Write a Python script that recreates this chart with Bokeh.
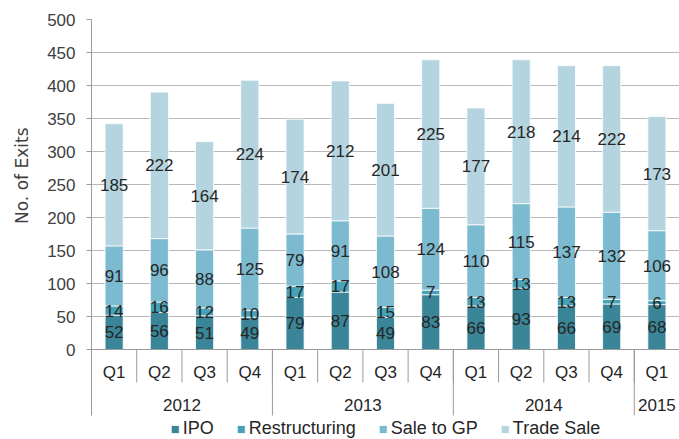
from bokeh.plotting import figure
from bokeh.models import FactorRange, Range1d, FixedTicker, ColumnDataSource, Title
from bokeh.core.properties import value
from bokeh.embed import file_html
from bokeh.resources import INLINE

years = ["2012", "2012", "2012", "2012", "2013", "2013", "2013", "2013",
         "2014", "2014", "2014", "2014", "2015"]
quarters = ["Q1", "Q2", "Q3", "Q4", "Q1", "Q2", "Q3", "Q4",
            "Q1", "Q2", "Q3", "Q4", "Q1"]
ipo = [52, 56, 51, 49, 79, 87, 49, 83, 66, 93, 66, 69, 68]
restructuring = [14, 16, 12, 10, 17, 17, 15, 7, 13, 13, 13, 7, 6]
sale_to_gp = [91, 96, 88, 125, 79, 91, 108, 124, 110, 115, 137, 132, 106]
trade_sale = [185, 222, 164, 224, 174, 212, 201, 225, 177, 218, 214, 222, 173]
series_names = ["IPO", "Restructuring", "Sale to GP", "Trade Sale"]
colors = ["#3a8598", "#47a2b7", "#7cbad0", "#b4d4df"]
y_ticks = [0, 50, 100, 150, 200, 250, 300, 350, 400, 450, 500]

FONT = "Liberation Sans"
factors = [f"{y} {q}" for y, q in zip(years, quarters)]

p = figure(width=679, height=439, output_backend="svg", toolbar_location=None,
           x_range=FactorRange(factors=factors, range_padding=0),
           y_range=Range1d(500 - 420 / 0.66, 500),
           x_axis_location=None,
           min_border_left=91, min_border_right=0, min_border_top=19, min_border_bottom=0)
p.outline_line_color = None
p.background_fill_color = "white"
p.border_fill_color = "white"

# grid
p.ygrid.ticker = FixedTicker(ticks=y_ticks)
p.ygrid.grid_line_color = "#b8b8b8"
p.xgrid.visible = False

# y axis
ax = p.yaxis[0]
ax.ticker = FixedTicker(ticks=y_ticks)
ax.bounds = (-100, 500)
ax.axis_line_color = "#9a9a9a"
ax.major_tick_line_color = "#9a9a9a"
ax.major_tick_out = 5
ax.major_tick_in = 0
ax.minor_tick_out = 0
ax.minor_tick_in = 0
ax.major_label_standoff = 11
ax.major_label_text_font = FONT
ax.major_label_text_font_size = "17px"
ax.major_label_text_color = "#404040"

data = dict(x=factors, ipo=ipo, restructuring=restructuring,
            sale_to_gp=sale_to_gp, trade_sale=trade_sale)
src = ColumnDataSource(data)
p.vbar_stack(["ipo", "restructuring", "sale_to_gp", "trade_sale"], x="x", width=0.4,
             color=colors, line_color="white", line_width=0.8, source=src,
             legend_label=series_names)

# data labels centered in segments
lx, ly, lt = [], [], []
for i, f in enumerate(factors):
    base = 0
    for s in (ipo, restructuring, sale_to_gp, trade_sale):
        lx.append(f)
        ly.append(base + s[i] / 2)
        lt.append(str(s[i]))
        base += s[i]
p.text(x=lx, y=ly, text=lt, text_font=value(FONT), text_font_size="17px",
       text_color="#262626", text_align="center", text_baseline="middle")

# x axis line
p.segment(x0=[(factors[0], -0.5)], y0=[0], x1=[(factors[-1], 0.5)], y1=[0],
          line_color="#9a9a9a", line_width=1)

# quarter separators
qsx = [(f, -0.5) for f in factors[1:]]
p.segment(x0=qsx, y0=[0] * len(qsx), x1=qsx, y1=[-50] * len(qsx),
          line_color="#9a9a9a", line_width=1)
# year separators
ysx = [(f, -0.5) for i, f in enumerate(factors) if i > 0 and years[i] != years[i - 1]]
p.segment(x0=ysx, y0=[0] * len(ysx), x1=ysx, y1=[-100] * len(ysx),
          line_color="#9a9a9a", line_width=1)

# quarter labels
p.text(x=factors, y=[-34.5] * len(factors), text=quarters, text_font=value(FONT),
       text_font_size="17px", text_color="#262626", text_align="center",
       text_baseline="middle")

# year labels at the middle of each group
uniq = []
for y in years:
    if y not in uniq:
        uniq.append(y)
yx = []
for y in uniq:
    idx = [i for i, yy in enumerate(years) if yy == y]
    n = len(idx)
    mid = idx[(n - 1) // 2]
    off = 0.5 if n % 2 == 0 else 0.0
    yx.append((factors[mid], off))
p.text(x=yx, y=[-83.5] * len(yx), text=uniq, text_font=value(FONT),
       text_font_size="17px", text_color="#262626", text_align="center",
       text_baseline="middle")

# y axis title (centred on the 0-500 value area)
p.add_layout(Title(text="No. of Exits", align="right", offset=108, standoff=22,
                   vertical_align="top",
                   text_font="DejaVu Sans", text_font_size="17px", text_font_style="normal",
                   text_color="#404040"), "left")

# legend
lg = p.legend[0]
lg.location = "bottom_center"
lg.orientation = "horizontal"
lg.border_line_color = None
lg.background_fill_alpha = 0
lg.margin = 0
lg.padding = 0
lg.spacing = 22
lg.glyph_width = 10
lg.glyph_height = 10
lg.label_standoff = 3
lg.label_height = 16
lg.label_text_font = FONT
lg.label_text_font_size = "18px"
lg.label_text_color = "#262626"

open("out.html", "w").write(file_html(p, INLINE))
